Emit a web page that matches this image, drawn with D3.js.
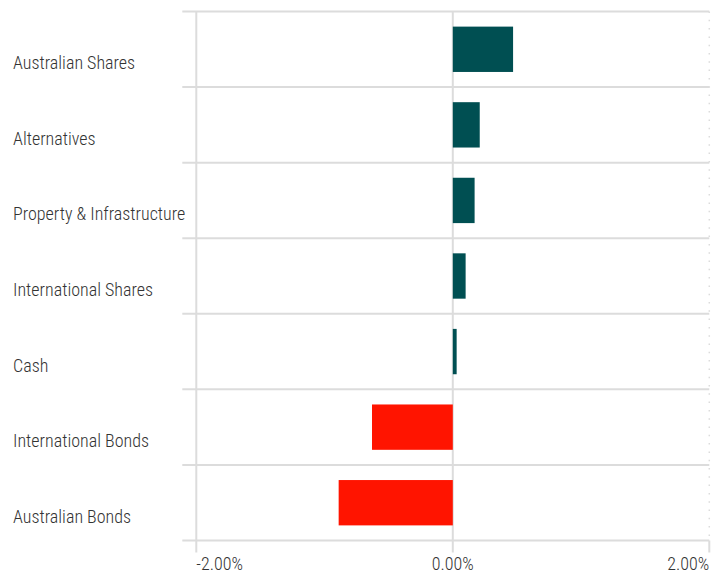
<!DOCTYPE html>
<html>
<head>
<meta charset="utf-8">
<script src="https://cdn.jsdelivr.net/npm/d3@7"></script>
<style>
    body { margin: 0; background: #fff; }
    svg text { font-family: "Liberation Sans Narrow", "Roboto Condensed", "Roboto", sans-serif; fill: #333; font-weight: 300; }
</style>
</head>
<body>
<svg id="svgId"></svg>
<script>
// 各资产类别及其数值（%）
var categories = ["Australian Shares", "Alternatives", "Property & Infrastructure",
    "International Shares", "Cash", "International Bonds", "Australian Bonds"];
var values = [0.47, 0.21, 0.17, 0.10, 0.03, -0.63, -0.89];
var xTicks = [-2, 0, 2];
var xTickLabels = ["-2.00%", "0.00%", "2.00%"];

drawChart();

function drawChart() {
    var svgWidth = 723, svgHeight = 575;
    var plotLeft = 196.3, plotRight = 709.3, plotTop = 11.5, plotBottom = 540.5;

    var svg = d3.select(document.getElementById("svgId"))
        .attr("width", svgWidth)
        .attr("height", svgHeight);

    var x = d3.scaleLinear()
        .domain([-2, 2])
        .range([plotLeft, plotRight]);

    var y = d3.scaleBand()
        .domain(categories)
        .range([plotTop, plotBottom])
        .paddingInner(0.4)
        .paddingOuter(0.2);

    var gridColor = "#dcdcdc";

    //横向分隔线（带左侧刻度）
    var boundaries = d3.range(categories.length + 1).map(function (i) {
        return plotTop + i * y.step();
    });
    svg.append("g")
        .selectAll("line")
        .data(boundaries)
        .enter().append("line")
        .attr("x1", plotLeft - 14)
        .attr("x2", plotRight)
        .attr("y1", function (d) { return d })
        .attr("y2", function (d) { return d })
        .attr("stroke", gridColor)
        .attr("stroke-width", 2);

    //纵向网格线
    svg.append("g")
        .selectAll("line")
        .data(xTicks)
        .enter().append("line")
        .attr("x1", function (d) { return x(d) })
        .attr("x2", function (d) { return x(d) })
        .attr("y1", plotTop)
        .attr("y2", plotBottom)
        .attr("stroke", gridColor)
        .attr("stroke-width", function (d, i) { return i == xTicks.length - 1 ? 1.5 : 2 })
        .attr("stroke-dasharray", function (d, i) { return i == xTicks.length - 1 ? "1.5,6.8" : null });

    //底部刻度
    svg.append("g")
        .selectAll("line")
        .data(xTicks)
        .enter().append("line")
        .attr("x1", function (d) { return x(d) })
        .attr("x2", function (d) { return x(d) })
        .attr("y1", plotBottom)
        .attr("y2", plotBottom + 12)
        .attr("stroke", gridColor)
        .attr("stroke-width", 2);

    //柱子
    svg.append("g")
        .selectAll("rect")
        .data(values)
        .enter().append("rect")
        .attr("x", function (d) { return x(Math.min(0, d)) })
        .attr("width", function (d) { return Math.abs(x(d) - x(0)) })
        .attr("y", function (d, i) { return y(categories[i]) })
        .attr("height", y.bandwidth())
        .attr("fill", function (d) { return d >= 0 ? "#004f52" : "#ff1400" });

    //类别标签
    svg.append("g")
        .selectAll("text")
        .data(categories)
        .enter().append("text")
        .attr("x", 13)
        .attr("y", function (d) { return y(d) + y.bandwidth() / 2 + 20 })
        .attr("font-size", 18)
        .text(function (d) { return d });

    //x轴标签
    svg.append("g")
        .selectAll("text")
        .data(xTicks)
        .enter().append("text")
        .attr("x", function (d) { return x(d) })
        .attr("y", 570)
        .attr("font-size", 18)
        .attr("text-anchor", function (d, i) { return i == 0 ? "start" : (i == xTicks.length - 1 ? "end" : "middle") })
        .text(function (d, i) { return xTickLabels[i] });
}
</script>
</body>
</html>
